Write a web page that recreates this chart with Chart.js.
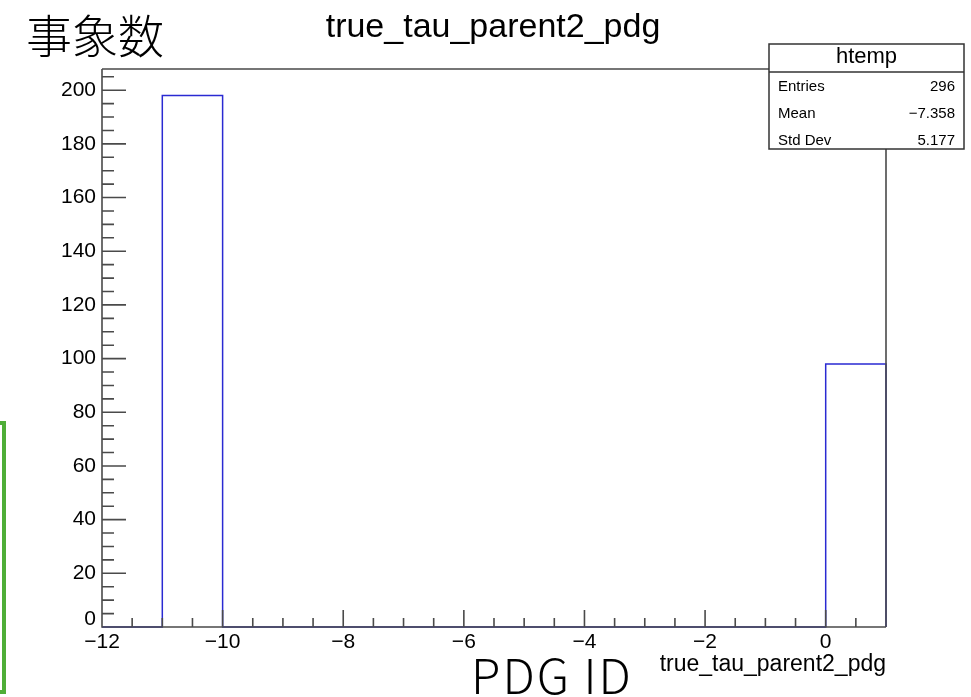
<!DOCTYPE html>
<html>
<head>
<meta charset="utf-8">
<title>true_tau_parent2_pdg</title>
<script src="https://cdn.jsdelivr.net/npm/chart.js@4.4.1/dist/chart.umd.min.js"></script>
<style>
  html, body { margin: 0; padding: 0; background: #fff; }
  #wrap { position: relative; width: 971px; height: 697px; overflow: hidden; }
  #bracket { position: absolute; left: -20px; top: 421px; width: 18px; height: 265px; border: 4px solid #4fae37; }
</style>
</head>
<body>
<div id="wrap">
  <canvas id="grafico" width="971" height="697"></canvas>
  <div id="bracket"></div>
</div>
<script>
// histogram bins (edges) and counts
const binEdges = [-12, -11, -10, -9, -8, -7, -6, -5, -4, -3, -2, -1, 0, 1];
const binCounts = [0, 198, 0, 0, 0, 0, 0, 0, 0, 0, 0, 0, 98];
const xTickLabels = [-12, -10, -8, -6, -4, -2, 0];
const yTickLabels = [0, 20, 40, 60, 80, 100, 120, 140, 160, 180, 200];
const statsRows = [['Entries', '296'], ['Mean', '\u22127.358'], ['Std Dev', '5.177']];
const yMax = 207.9;

const FONT = '"Liberation Sans", Arial, Helvetica, sans-serif';

// outline points of the histogram, bin by bin
const contorno = [{ x: binEdges[0], y: 0 }];
binCounts.forEach(function(c, i) {
  contorno.push({ x: binEdges[i], y: c });
  contorno.push({ x: binEdges[i + 1], y: c });
});
contorno.push({ x: binEdges[binEdges.length - 1], y: 0 });

function signo(v) {
  return v < 0 ? '\u2212' + Math.abs(v) : String(v);
}

// frame, axes and ticks drawn on top of the histogram line
const ejes = {
  id: 'ejes',
  afterDatasetsDraw(chart) {
    const ctx = chart.ctx;
    const a = chart.chartArea;
    const x = chart.scales.x;
    const y = chart.scales.y;
    ctx.save();
    ctx.strokeStyle = '#4a4a4a';
    ctx.lineWidth = 1.6;
    ctx.beginPath();
    ctx.moveTo(a.left, a.top);
    ctx.lineTo(a.right, a.top);
    ctx.lineTo(a.right, a.bottom);
    ctx.moveTo(a.left, a.top);
    ctx.lineTo(a.left, a.bottom);
    ctx.lineTo(a.right, a.bottom);
    for (let v = 0; v <= y.max; v += 5) {
      const py = y.getPixelForValue(v);
      const len = v % 20 === 0 ? 24 : 12;
      ctx.moveTo(a.left, py);
      ctx.lineTo(a.left + len, py);
    }
    for (let v = x.min; v <= x.max; v += 0.5) {
      const px = x.getPixelForValue(v);
      const len = v % 2 === 0 ? 17 : 9;
      ctx.moveTo(px, a.bottom);
      ctx.lineTo(px, a.bottom - len);
    }
    ctx.stroke();

    // the zero of the y axis sits raised above the corner
    ctx.fillStyle = '#000';
    ctx.font = '21px ' + FONT;
    ctx.textAlign = 'right';
    ctx.textBaseline = 'alphabetic';
    ctx.fillText('0', a.left - 6, y.getPixelForValue(0) - 2);
    ctx.restore();
  },
  afterDraw(chart) {
    const ctx = chart.ctx;
    const a = chart.chartArea;
    ctx.save();
    ctx.fillStyle = '#000';

    ctx.font = '34px ' + FONT;
    ctx.textAlign = 'center';
    ctx.textBaseline = 'middle';
    ctx.fillText('true_tau_parent2_pdg', 493, 28);

    ctx.font = '300 46px "Noto Sans CJK JP", sans-serif';
    ctx.textAlign = 'left';
    ctx.fillText('事象数', 26, 36);

    ctx.font = '23px ' + FONT;
    ctx.textAlign = 'right';
    ctx.fillText('true_tau_parent2_pdg', a.right, 665);

    ctx.font = '300 48px "Noto Sans CJK JP", "Noto Sans", sans-serif';
    ctx.letterSpacing = '2px';
    ctx.textAlign = 'left';
    ctx.textBaseline = 'alphabetic';
    ctx.fillText('PDG ID', 471, 694);
    ctx.letterSpacing = '0px';

    // stats box
    const bx = 769, by = 44, bw = 195, bh = 105;
    ctx.fillStyle = '#fff';
    ctx.fillRect(bx, by, bw, bh);
    ctx.strokeStyle = '#333';
    ctx.lineWidth = 1.5;
    ctx.strokeRect(bx, by, bw, bh);
    ctx.beginPath();
    ctx.moveTo(bx, 72);
    ctx.lineTo(bx + bw, 72);
    ctx.stroke();

    ctx.fillStyle = '#000';
    ctx.font = '22px ' + FONT;
    ctx.textAlign = 'center';
    ctx.textBaseline = 'middle';
    ctx.fillText('htemp', bx + bw / 2, 57);

    ctx.font = '15px ' + FONT;
    statsRows.forEach(function(r, i) {
      const ry = 87 + i * 27;
      ctx.textAlign = 'left';
      ctx.fillText(r[0], 778, ry);
      ctx.textAlign = 'right';
      ctx.fillText(r[1], 955, ry);
    });
    ctx.restore();
  }
};

const grafico = new Chart(document.getElementById('grafico'), {
  type: 'line',
  data: {
    datasets: [{
      data: contorno,
      borderColor: '#2a2ad2',
      borderWidth: 1.5,
      pointRadius: 0,
      tension: 0,
      fill: false,
      clip: 4
    }]
  },
  options: {
    responsive: false,
    animation: false,
    layout: { padding: { top: 69, right: 85, left: 0, bottom: 0 } },
    plugins: {
      legend: { display: false },
      tooltip: { enabled: false },
      title: { display: false }
    },
    scales: {
      x: {
        type: 'linear',
        min: -12,
        max: 1,
        afterBuildTicks: function(s) {
          s.ticks = xTickLabels.map(function(v) { return { value: v }; });
        },
        afterFit: function(s) { s.height = 70; },
        grid: { display: false, drawTicks: false },
        border: { display: false },
        ticks: {
          autoSkip: false,
          maxRotation: 0,
          padding: 3,
          color: '#000',
          font: { family: FONT, size: 21 },
          callback: function(v) { return signo(v); }
        }
      },
      y: {
        type: 'linear',
        min: 0,
        max: yMax,
        afterBuildTicks: function(s) {
          s.ticks = yTickLabels.map(function(v) { return { value: v }; });
        },
        afterFit: function(s) { s.width = 102; },
        grid: { display: false, drawTicks: false },
        border: { display: false },
        ticks: {
          autoSkip: false,
          padding: 6,
          color: '#000',
          font: { family: FONT, size: 21 },
          callback: function(v) { return v === 0 ? '' : String(v); }
        }
      }
    }
  },
  plugins: [ejes]
});
</script>
</body>
</html>
